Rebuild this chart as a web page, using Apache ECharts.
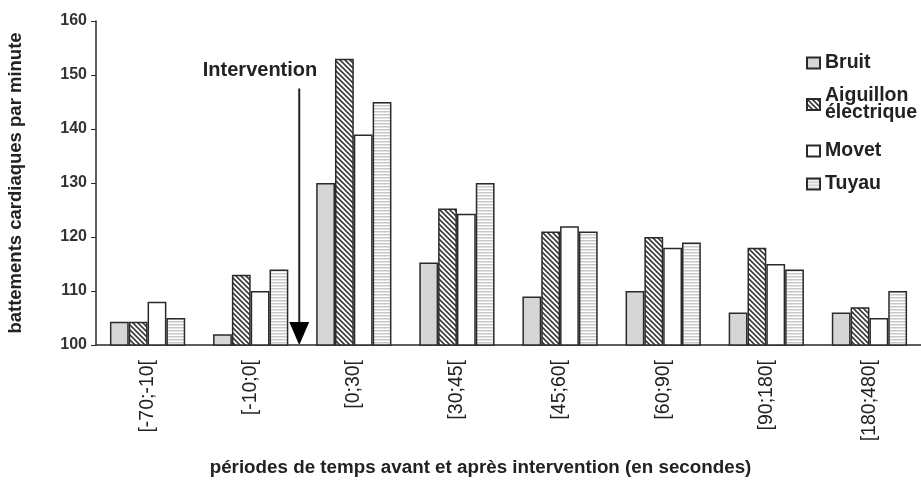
<!DOCTYPE html>
<html>
<head>
<meta charset="utf-8">
<script src="https://cdn.jsdelivr.net/npm/echarts@6/dist/echarts.min.js"></script>
<style>
  html, body { margin: 0; padding: 0; background: #fff; }
  #chart { width: 921px; height: 480px; }
</style>
</head>
<body>
<div id="chart"></div>
<script>
// périodes
const categories = ['[-70;-10[', '[-10;0[', '[0;30[', '[30;45[', '[45;60[', '[60;90[', '[90;180[', '[180;480['];
const bruit = [104.3, 102, 130, 115.3, 109, 110, 106, 106];
const aiguillon = [104.3, 113, 153, 125.3, 121, 120, 118, 107];
const movet = [108, 110, 139, 124.3, 122, 118, 115, 105];
const tuyau = [105, 114, 145, 130, 121, 119, 114, 110];
const yTicks = { min: 100, max: 160, step: 10 };

const font = 'Liberation Sans, Arial, sans-serif';
const border = '#2a2a2a';

// motifs de remplissage (hachures)
function hatch(size, draw) {
  const c = document.createElement('canvas');
  c.width = size; c.height = size;
  const ctx = c.getContext('2d');
  ctx.fillStyle = '#fff';
  ctx.fillRect(0, 0, size, size);
  draw(ctx, size);
  return { image: c, repeat: 'repeat' };
}
const diagonal = hatch(5, function (ctx, s) {
  ctx.strokeStyle = '#3a3a3a';
  ctx.lineWidth = 1.6;
  for (let k = -1; k <= 1; k++) {
    ctx.beginPath();
    ctx.moveTo(-1, -1 + k * s);
    ctx.lineTo(s + 1, s + 1 + k * s);
    ctx.stroke();
  }
});
const stripes = hatch(3, function (ctx, s) {
  ctx.fillStyle = '#c8c8c8';
  ctx.fillRect(0, 0, s, 1.5);
});

function barSeries(name, data, color) {
  return {
    name: name,
    type: 'bar',
    data: data,
    barGap: '0%',
    barCategoryGap: '27%',
    itemStyle: { color: color, borderColor: border, borderWidth: 1.5 }
  };
}

const chart = echarts.init(document.getElementById('chart'));
const legendBase = {
  orient: 'vertical',
  left: 806,
  padding: 0,
  icon: 'rect',
  itemWidth: 13,
  itemHeight: 11,
  itemGap: 13,
  selectedMode: false,
  textStyle: { fontFamily: font, fontWeight: 'bold', fontSize: 19.5, color: '#222', lineHeight: 17 }
};

chart.setOption({
  animation: false,
  backgroundColor: '#fff',
  grid: { left: 96, right: 0, top: 21, bottom: 135, outerBoundsMode: 'none', containLabel: false },
  legend: [
    Object.assign({}, legendBase, { top: 53, data: ['Bruit', 'Aiguillon\nélectrique'] }),
    Object.assign({}, legendBase, { top: 141, data: ['Movet', 'Tuyau'] })
  ],
  xAxis: {
    type: 'category',
    data: categories,
    name: 'périodes de temps avant et après intervention (en secondes)',
    nameLocation: 'middle',
    nameGap: 113,
    nameTextStyle: { fontFamily: font, fontWeight: 'bold', fontSize: 18.8, color: '#222', padding: [0, 56, 0, 0] },
    axisLine: { lineStyle: { color: border, width: 1.5 } },
    axisTick: { length: 5, lineStyle: { color: border } },
    axisLabel: { rotate: 90, fontFamily: font, fontSize: 19.5, color: '#222', margin: 15 }
  },
  yAxis: {
    type: 'value',
    min: yTicks.min,
    max: yTicks.max,
    interval: yTicks.step,
    name: 'battements cardiaques par minute',
    nameLocation: 'middle',
    nameGap: 71,
    nameTextStyle: { fontFamily: font, fontWeight: 'bold', fontSize: 18.5, color: '#222' },
    axisLine: { show: true, lineStyle: { color: border, width: 1.5 } },
    axisTick: { show: true, length: 5, lineStyle: { color: border } },
    splitLine: { show: false },
    axisLabel: { fontFamily: font, fontWeight: 'bold', fontSize: 16, color: '#333', margin: 9 }
  },
  series: [
    barSeries('Bruit', bruit, '#d6d6d6'),
    barSeries('Aiguillon\nélectrique', aiguillon, diagonal),
    barSeries('Movet', movet, '#ffffff'),
    barSeries('Tuyau', tuyau, stripes)
  ]
});

// flèche "Intervention" entre [-10;0[ et [0;30[
const arrowTop = 147.5;
const p1 = chart.convertToPixel({ gridIndex: 0 }, [1, yTicks.min]);
const p2 = chart.convertToPixel({ gridIndex: 0 }, [2, yTicks.min]);
const arrowX = (p1[0] + p2[0]) / 2 - 3;
const arrowBase = p1[1];
const arrowY = chart.convertToPixel({ gridIndex: 0 }, [1, arrowTop])[1];
chart.setOption({
  graphic: [
    { type: 'line', shape: { x1: arrowX, y1: arrowY, x2: arrowX, y2: arrowBase - 20 }, style: { stroke: '#222', lineWidth: 2 } },
    { type: 'polygon', shape: { points: [[arrowX - 10, arrowBase - 23], [arrowX + 10, arrowBase - 23], [arrowX, arrowBase]] }, style: { fill: '#000' } },
    { type: 'text', x: arrowX + 18, y: arrowY - 18, style: { text: 'Intervention', align: 'right', verticalAlign: 'middle', font: 'bold 20px ' + font, fill: '#222' } }
  ]
});
</script>
</body>
</html>
